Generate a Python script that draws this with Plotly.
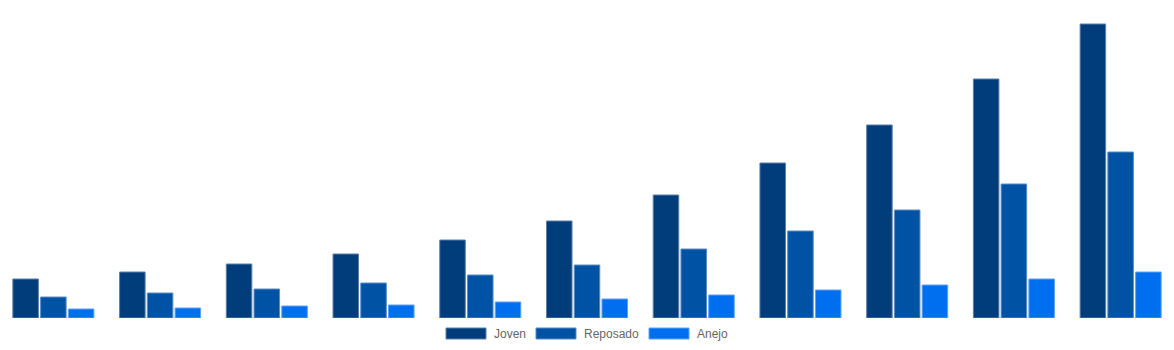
import plotly.graph_objects as go

categories = ["2010", "2011", "2012", "2013", "2014", "2015", "2016", "2017", "2018", "2019", "2020"]
joven = [39, 46, 54, 64, 78, 97, 123, 155, 193, 239, 294]
reposado = [21, 25, 29, 35, 43, 53, 69, 87, 108, 134, 166]
anejo = [9, 10, 12, 13, 16, 19, 23, 28, 33, 39, 46]

series_names = ["Joven", "Reposado", "Anejo"]
colors = ["#023D7B", "#0052A5", "#006FEF"]
borders = ["#5C7FA6", "#5A8CC4", "#5AA2F4"]

fig = go.Figure()
for name, vals, c, b in zip(series_names, [joven, reposado, anejo], colors, borders):
    fig.add_trace(go.Bar(x=categories, y=vals, name=name, marker=dict(color=c, line=dict(color=b, width=1)), showlegend=False))

# custom legend (wide swatches)
sw_x = [446, 536, 649]
for name, c, b, x0 in zip(series_names, colors, borders, sw_x):
    fig.add_shape(type="rect", xref="paper", yref="paper",
                  x0=x0 / 1174, x1=(x0 + 40) / 1174,
                  y0=(350 - 339 - 32) / 318, y1=(350 - 328 - 32) / 318,
                  fillcolor=c, line=dict(color=b, width=1))
    fig.add_annotation(xref="paper", yref="paper", x=(x0 + 46) / 1174, y=(350 - 333.5 - 32) / 318,
                       text=name, showarrow=False, xanchor="left", yanchor="middle",
                       font=dict(family="Liberation Sans, Arial", size=12, color="#666666"))

fig.update_layout(
    width=1174, height=350,
    margin=dict(l=0, r=0, t=0, b=32),
    barmode="group", bargap=0.22, bargroupgap=0.08,
    plot_bgcolor="white", paper_bgcolor="white",
    xaxis=dict(visible=False),
    yaxis=dict(visible=False, range=[0, 318]),
)
fig.write_html("out.html")
